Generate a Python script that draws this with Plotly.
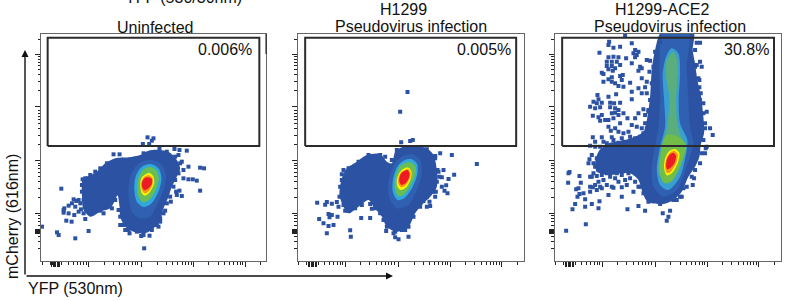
import math
import plotly.graph_objects as go

# Channel units: 3 channels per screen pixel; each panel has its own instrument offset.
PANEL_X_RANGE = [[122, 798], [52, 730], [43, 723]]
Y_RANGE = [217, 898]
PANEL_DOMAIN_PX = [(41, 266), (297.5, 523.5), (554.5, 781)]
GATE_X = [[142, 778], [75, 708], [66, 702]]
GATE_Y = [562, 887]
TITLES = [("Uninfected", 155, 27), ("H1299", 403, 10), ("Pseudovirus infection", 411, 26),
          ("H1299-ACE2", 662, 10), ("Pseudovirus infection", 670, 26)]
PERCENTS = [("0.006%", 254, 49), ("0.005%", 513, 49), ("30.8%", 771, 49)]
LEVEL_COLORS = ["#2c52a3", "#3060b2", "#30a8dc", "#68bd55", "#fff200", "#f7941d", "#ed1c24"]
P3_COLORS = ["#2c52a3", "#3060b2", "#379fd2", "#5aae7e", "#72bd48", "#fff200", "#f7941d", "#ed1c24"]

# panel 1
P1_BLOB = [(248,465),(262,470),(290,485),(315,510),(345,525),(385,528),(420,535),(445,548),(480,550),(510,542),(530,520),(540,495),(530,470),(515,440),(505,410),(490,375),(480,340),(460,315),(435,300),(400,305),(375,320),(360,350),(358,380),(352,415),(345,400),(330,375),(300,365),(270,350),(250,370),(245,410)]
P1_HALO = [(450,520),(480,510),(498,475),(490,430),(470,385),(450,350),(420,345),(395,365),(385,410),(390,470),(415,510)]
P1_CYAN = [(452,508),(475,495),(484,465),(475,425),(452,388),(430,379),(410,395),(402,435),(408,475),(425,500)]
P1_GREEN = [(450,500),(470,488),(476,462),(466,428),(447,400),(428,393),(415,410),(411,440),(416,470),(430,492)]
P1_YELLOW = [(447,482),(460,470),(462,450),(450,425),(435,413),(424,422),(420,445),(425,468)]
P1_ORANGE = [(445,474),(457,465),(457,448),(447,428),(434,420),(425,430),(423,450),(430,467)]
P1_RED = [(443,468),(455,463),(455,448),(445,435),(433,429),(426,438),(426,455),(433,465)]
P1_DOTS = [(442,588),(460,585),(455,578),(428,568),(447,568),(478,555),(523,553),(538,550),(560,548),(340,537),(358,537),(535,535),(545,515),(565,500),(600,497),(612,495),(550,465),(565,462),(578,462),(590,458),(528,425),(538,428),(530,415),(545,412),(600,428),(512,395),(183,434),(220,402),(205,383),(228,397),(192,375),(190,362),(225,380),(240,390),(250,360),(222,355),(198,338),(214,335),(255,343),(310,360),(335,375),(265,307),(170,303),(175,295),(225,285),(125,320),(432,255),(448,293),(423,292),(375,310),(388,300),(480,335),(475,320),(495,368),(360,325),(242,372),(235,365),(247,462),(262,465),(532,485),(550,490),(522,480)]
P1_EDGE = [(320,510),(300,495),(285,485),(270,475),(255,465),(245,445),(245,425),(250,400),(255,380),(275,360),(300,368),(320,380),(345,400),(355,420),(345,430),(370,515),(430,540),(500,545),(525,530),(540,510),(535,480),(525,460),(520,440),(510,410),(500,390),(490,360),(480,345),(470,325),(455,310),(430,295),(410,305),(385,310),(370,325),(360,350),(355,370),(235,400),(215,390),(205,360),(190,370)]

# panel 2
P2_BLOB = [(185,465),(200,495),(230,515),(260,535),(300,538),(320,515),(335,510),(345,545),(365,558),(400,562),(440,555),(460,535),(470,490),(470,440),(455,415),(430,390),(405,360),(385,320),(350,305),(320,320),(305,350),(280,380),(265,400),(235,380),(205,360),(190,380),(178,415)]
P2_HALO = [(395,538),(420,520),(425,480),(410,430),(385,385),(350,375),(328,405),(325,450),(340,505),(365,530)]
P2_CYAN = [(395,522),(411,508),(412,480),(398,440),(372,405),(352,400),(338,425),(340,470),(355,505),(375,520)]
P2_GREEN = [(392,513),(406,500),(406,478),(392,445),(370,415),(354,412),(344,435),(346,470),(358,500),(375,511)]
P2_YELLOW = [(385,497),(394,485),(392,465),(380,440),(362,430),(352,440),(350,460),(358,482),(370,494)]
P2_ORANGE = [(384,493),(391,482),(389,465),(377,445),(363,438),(355,447),(354,462),(361,480)]
P2_RED = [(382,490),(388,480),(386,465),(376,450),(364,445),(358,454),(358,467),(364,482)]
P2_DOTS = [(382,724),(360,665),(363,573),(390,577),(398,580),(480,540),(515,535),(590,508),(465,532),(490,490),(475,485),(477,470),(522,476),(505,463),(485,468),(498,444),(485,440),(493,428),(502,420),(467,425),(465,410),(430,397),(448,395),(450,382),(440,380),(185,477),(111,392),(135,386),(155,389),(170,394),(140,394),(175,380),(195,368),(145,358),(155,355),(148,348),(172,350),(117,343),(130,330),(145,322),(160,325),(140,300),(210,309),(212,290),(243,346),(270,346),(275,374),(318,307),(340,300),(345,288),(355,282),(385,290),(375,310)]
P2_EDGE = [(190,490),(185,460),(180,440),(178,410),(190,385),(205,368),(225,375),(245,385),(270,388),(285,375),(300,360),(310,340),(320,320),(345,305),(365,310),(385,320),(400,350),(420,380),(440,410),(460,425),(470,455),(472,490),(465,525),(440,552),(350,550),(335,520),(315,530),(300,535),(265,535),(235,515),(205,495)]

# panel 3
P3_BLOB = [(365,905),(460,905),(458,850),(465,810),(472,760),(483,710),(490,650),(492,600),(482,565),(478,530),(465,500),(445,470),(425,425),(400,400),(370,388),(335,390),(318,400),(305,430),(295,460),(270,480),(245,480),(210,475),(170,485),(165,510),(175,545),(205,570),(255,580),(310,605),(322,650),(330,710),(335,790),(345,850)]
P3_HALO = [(370,905),(445,905),(440,800),(445,700),(450,620),(460,570),(440,500),(410,430),(370,410),(340,440),(335,500),(345,560),(355,620),(360,700),(358,800)]
P3_CYAN = [(395,855),(415,840),(420,780),(416,700),(420,630),(442,580),(440,550),(420,470),(385,430),(360,445),(350,490),(360,560),(375,620),(372,700),(368,780),(378,830)]
P3_DULL = [(400,845),(412,820),(413,770),(408,700),(412,630),(425,585),(438,565),(420,500),(395,455),(372,450),(356,485),(362,550),(375,590),(385,650),(388,710),(378,770),(380,820)]
P3_LIME = [(415,590),(438,565),(420,500),(395,458),(374,452),(358,485),(364,550),(378,595)]
P3_YELLOW = [(405,553),(418,540),(413,510),(395,480),(380,474),(372,495),(375,525),(388,547)]
P3_ORANGE = [(403,548),(413,537),(408,510),(392,485),(381,481),(375,497),(379,525),(390,542)]
P3_RED = [(400,542),(408,532),(403,510),(390,495),(381,492),(378,505),(382,525),(390,537)]
P3_DOTS = [(255,894),(207,875),(205,865),(240,860),(220,857),(275,870),(178,842),(285,850),(295,845),(280,840),(290,835),(470,872),(480,872),
(205,828),(220,830),(235,828),(258,825),(285,828),(200,815),(215,815),(230,815),(200,802),(215,802),(225,795),(240,805),(205,792),(218,788),(185,782),(190,778),(300,800),(295,788),(305,795),(275,810),(320,820),(330,818),(328,785),(480,815),(485,800),(470,805),
(215,768),(240,772),(248,775),(205,762),(190,755),(215,755),(225,750),(245,760),(235,742),(250,740),(270,752),(305,765),(320,755),(315,738),(295,735),(305,720),(320,720),(275,725),(275,702),(478,738),(482,720),(475,765),
(172,715),(228,717),(175,702),(205,710),(210,692),(170,690),(185,692),(180,678),(160,695),(150,680),(222,690),(240,692),(210,678),(225,675),(235,670),(250,660),(165,675),(215,660),(225,662),(235,655),(310,672),(315,655),(500,665),(490,690),
(158,653),(175,648),(185,655),(195,640),(180,638),(205,640),(220,645),(262,645),(285,645),(240,630),(205,620),(225,615),(212,608),(235,605),(250,600),(275,625),(290,620),(265,605),(315,630),(320,615),(510,615),(518,595),(495,630),(480,635),
(158,588),(185,588),(215,588),(245,585),(270,590),(190,575),(165,575),(150,563),(235,572),(265,570),
(155,535),(148,522),(145,510),(88,484),(85,480),(118,472),(84,452),(122,452),(155,470),(170,472),(150,440),(158,438),(115,435),(108,432),(118,418),(112,410),(135,402),(105,388),(97,372),(155,388),(178,396),(135,380),(175,375),(205,415),(220,437),(245,438),(245,410),(262,372),(295,382),(315,368),(137,327),(78,308),(368,360),(390,368),(385,350),(380,338),(410,400),(420,410),(430,435),(462,465),(458,445),(495,540),(497,555),(500,560)]
P3_EDGE = [(330,700),(325,670),(335,750),(340,800),(345,845),(360,875),(465,850),(465,800),(478,760),(480,700),(490,660),(495,615),(490,580),(485,540),(480,510),(465,490),(455,470),(440,440),(425,410),(400,400),(360,388),(325,395),(310,420),(300,440),
(160,510),(170,525),(165,500),(175,490),(185,475),(160,480),(150,470),(190,460),(175,455),(165,445),(200,445),(185,435),(210,470),(225,465),(235,455),(215,440),(255,460),(260,445),(270,465),(285,455),(280,425),(295,440),(265,480),(245,475),(230,480),(200,480),(180,440),(170,430),(150,425),(130,420),
(310,600),(300,590),(320,580),(285,585),(295,570),(250,575),(220,580),(200,570),(180,560),(165,560),(305,615),(330,625),(325,665),(295,660)]

BLOBS = [P1_BLOB, P2_BLOB, P3_BLOB]
LEVELS = [[P1_HALO, P1_CYAN, P1_GREEN, P1_YELLOW, P1_ORANGE, P1_RED],
          [P2_HALO, P2_CYAN, P2_GREEN, P2_YELLOW, P2_ORANGE, P2_RED],
          [P3_HALO, P3_CYAN, P3_DULL, P3_LIME, P3_YELLOW, P3_ORANGE, P3_RED]]
COLORS = [LEVEL_COLORS, LEVEL_COLORS, P3_COLORS]
DOTS = [P1_DOTS + P1_EDGE, P2_DOTS + P2_EDGE, P3_DOTS + P3_EDGE]

# decade ticks, channels from the left edge of each panel / on the common y scale
X_MAJOR_REL = [143, 303, 458, 613]
X_BLOCK_REL = [33, 37, 41, 45, 49, 53, 57]
X_EXTRA_REL = [3, 28]
Y_MAJOR = [837, 680, 518, 360]
Y_BLOCK = [301, 304, 307, 310, 313]
Y_EXTRA = [255, 275, 290, 882]
LOG_FRACTIONS = [math.log10(d) for d in range(2, 10)]

fig = go.Figure()
W, H = 797, 301


def log_minor(majors, decade):
    out = []
    for m in majors:
        out += [m + f * decade for f in LOG_FRACTIONS]
    return out


for i in range(3):
    n = "" if i == 0 else str(i + 1)
    xa, ya = "x" + n, "y" + n
    polys = [BLOBS[i]] + LEVELS[i]
    for poly, col in zip(polys, COLORS[i]):
        xs = [p[0] for p in poly] + [poly[0][0]]
        ys = [p[1] for p in poly] + [poly[0][1]]
        fig.add_trace(go.Scatter(x=xs, y=ys, mode="lines", line=dict(width=0, shape="spline", smoothing=0.8, color=col),
                                 fill="toself", fillcolor=col, hoverinfo="skip", showlegend=False, xaxis=xa, yaxis=ya))
    fig.add_trace(go.Scatter(x=[p[0] for p in DOTS[i]], y=[p[1] for p in DOTS[i]], mode="markers",
                             marker=dict(symbol="square", size=4, color="#2c52a3", line=dict(width=0)),
                             hoverinfo="skip", showlegend=False, xaxis=xa, yaxis=ya))
    gx0, gx1 = GATE_X[i]
    fig.add_trace(go.Scatter(x=[gx0, gx1, gx1, gx0, gx0], y=[GATE_Y[0], GATE_Y[0], GATE_Y[1], GATE_Y[1], GATE_Y[0]],
                             mode="lines", line=dict(color="#2b2b2b", width=2), hoverinfo="skip", showlegend=False,
                             xaxis=xa, yaxis=ya))
    left = PANEL_X_RANGE[i][0]
    xmaj = [left + t for t in X_MAJOR_REL + X_BLOCK_REL]
    xmin = [left + t for t in X_EXTRA_REL] + [left + t for t in log_minor([143, 303, 458], 155)] + \
           [left + 143 - 155 + f * 155 for f in LOG_FRACTIONS] + [left + 613 + 0.3 * 155]
    ymaj = Y_MAJOR + Y_BLOCK
    ymin = log_minor([680, 518, 360], 158) + Y_EXTRA + [360 - 158 + f * 158 for f in LOG_FRACTIONS[3:]]
    axcommon = dict(showgrid=False, zeroline=False, showticklabels=False, showline=True, mirror=True,
                    linecolor="#666666", linewidth=1, ticks="outside", tickcolor="#222222", tickwidth=1, ticklen=5)
    d = PANEL_DOMAIN_PX[i]
    fig.update_layout(**{
        ("xaxis" + n): dict(axcommon, domain=[d[0] / W, d[1] / W], range=PANEL_X_RANGE[i], tickmode="array", tickvals=xmaj,
                            minor=dict(tickmode="array", tickvals=xmin, ticklen=2.5, ticks="outside", tickcolor="#222222", tickwidth=1),
                            anchor=ya),
        ("yaxis" + n): dict(axcommon, domain=[1 - 261 / H, 1 - 34 / H], range=Y_RANGE, tickmode="array", tickvals=ymaj,
                            minor=dict(tickmode="array", tickvals=ymin, ticklen=2.5, ticks="outside", tickcolor="#222222", tickwidth=1),
                            anchor=xa),
    })

FONT = dict(family="Liberation Sans, Arial, sans-serif", size=16, color="#111111")
ann = []


def text(t, x, y, anchor="center", angle=0):
    ann.append(dict(text=t, x=x / W, y=1 - y / H, xref="paper", yref="paper", showarrow=False, xanchor=anchor,
                    yanchor="middle", textangle=angle, font=FONT))


for t, x, y in TITLES:
    text(t, x, y)
for t, x, y in PERCENTS:
    text(t, x, y, anchor="right")
text("YFP (530/30nm)", 183, -2)
text("YFP (530nm)", 75, 288)
text("mCherry (616nm)", 13, 217, angle=-90)
for tip_x, tip_y, ax, ay in [(25, 50, 0, 226), (393, 276, -368, 0)]:
    ann.append(dict(x=tip_x / W, y=1 - tip_y / H, xref="paper", yref="paper", ax=ax, ay=ay, axref="pixel", ayref="pixel",
                    text="", showarrow=True, arrowhead=2, arrowsize=1, arrowwidth=1.4, arrowcolor="#111111", standoff=0))

fig.update_layout(width=W, height=H, margin=dict(l=0, r=0, t=0, b=0), paper_bgcolor="white", plot_bgcolor="white",
                  showlegend=False, annotations=ann,
                  shapes=[dict(type="line", xref="paper", yref="paper", x0=266 / W, x1=266 / W, y0=1 - 54 / H, y1=1 - 34 / H,
                               line=dict(color="#111111", width=1))])
fig.write_html("out.html", config={"displayModeBar": False},
               post_script="document.body.style.margin='0';document.body.style.overflow='hidden';")
